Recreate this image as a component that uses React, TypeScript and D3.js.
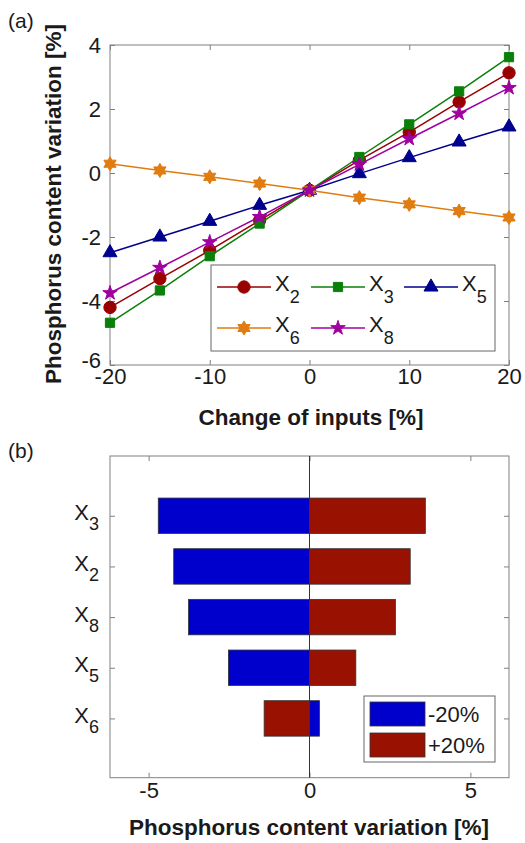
import React, { useRef, useEffect } from 'react';
import * as d3 from 'd3';

// panel (a): change of inputs vs phosphorus content variation
const inputChange = [-20, -15, -10, -5, 0, 5, 10, 15, 20];
const x2Values = [-4.2, -3.3, -2.42, -1.48, -0.54, 0.4, 1.28, 2.22, 3.13];
const x3Values = [-4.68, -3.67, -2.6, -1.58, -0.54, 0.5, 1.52, 2.55, 3.62];
const x5Values = [-2.49, -2.0, -1.51, -1.01, -0.54, -0.02, 0.48, 0.97, 1.44];
const x6Values = [0.29, 0.08, -0.12, -0.33, -0.54, -0.77, -0.98, -1.19, -1.39];
const x8Values = [-3.75, -2.96, -2.16, -1.37, -0.54, 0.27, 1.07, 1.86, 2.66];
const topXTicks = [-20, -10, 0, 10, 20];
const topYTicks = [-6, -4, -2, 0, 2, 4];

// panel (b): tornado bars, top to bottom
const barInputs = ['3', '2', '8', '5', '6'];
const minus20Values = [-4.7, -4.22, -3.76, -2.52, 0.31];
const plus20Values = [3.6, 3.13, 2.67, 1.44, -1.41];
const bottomXTicks = [-5, 0, 5];

const FONT = '"Liberation Sans", Arial, sans-serif';

// hexagram marker (MATLAB 'h')
const hexagram = {
  draw(context, size) {
    const R = Math.sqrt(size);
    const r = R / Math.sqrt(3);
    for (let i = 0; i < 12; i++) {
      const a = (i * Math.PI) / 6 - Math.PI / 2;
      const rad = i % 2 === 0 ? R : r;
      const x = rad * Math.cos(a), y = rad * Math.sin(a);
      if (i === 0) context.moveTo(x, y); else context.lineTo(x, y);
    }
    context.closePath();
  }
};

const series = [
  { name: '2', values: x2Values, color: '#990000', symbol: d3.symbolCircle, size: 120 },
  { name: '3', values: x3Values, color: '#0a800a', symbol: d3.symbolSquare, size: 85 },
  { name: '5', values: x5Values, color: '#00008f', symbol: d3.symbolTriangle, size: 85 },
  { name: '6', values: x6Values, color: '#e07c10', symbol: hexagram, size: 50 },
  { name: '8', values: x8Values, color: '#a000a0', symbol: d3.symbolStar, size: 65 },
];

// plain hyphen minus like the original figure
const plain = d => String(d);

function styleAxis(g) {
  g.select('.domain').remove();
  g.selectAll('.tick line').attr('stroke', '#808080');
  g.selectAll('.tick text')
    .attr('fill', '#1a1a1a')
    .style('font-family', FONT)
    .style('font-size', '22px');
}

function subLabel(sel, sub, subDy) {
  sel.append('tspan').text('X');
  sel.append('tspan').attr('dy', subDy).style('font-size', '18px').text(sub);
}

function App() {
  const svgRef = useRef(null);

  useEffect(() => {
    if (!svgRef.current) return;
    const svg = d3.select(svgRef.current);
    svg.selectAll('*').remove();

    // ---------- panel (a) ----------
    const x = d3.scaleLinear().domain([-20, 20]).range([110, 509]);
    const y = d3.scaleLinear().domain([-6, 4]).range([365, 45]);

    svg.append('rect')
      .attr('x', 110).attr('y', 45).attr('width', 399).attr('height', 320)
      .attr('fill', 'white').attr('stroke', '#808080');

    svg.append('g').attr('transform', 'translate(0,365)')
      .call(d3.axisBottom(x).tickValues(topXTicks).tickFormat(plain).tickSizeInner(-5).tickSizeOuter(0).tickPadding(3))
      .call(styleAxis);
    svg.append('g').attr('transform', 'translate(0,45)')
      .call(d3.axisTop(x).tickValues(topXTicks).tickSizeInner(-5).tickSizeOuter(0).tickFormat(() => ''))
      .call(styleAxis);
    const yAxisA = svg.append('g').attr('transform', 'translate(110,0)')
      .call(d3.axisLeft(y).tickValues(topYTicks).tickFormat(plain).tickSizeInner(-5).tickSizeOuter(0).tickPadding(9))
      .call(styleAxis);
    // the lowest label sits a bit higher in the original
    yAxisA.selectAll('.tick').filter(d => d === -6).select('text').attr('y', -5);
    svg.append('g').attr('transform', 'translate(509,0)')
      .call(d3.axisRight(y).tickValues(topYTicks).tickSizeInner(-5).tickSizeOuter(0).tickFormat(() => ''))
      .call(styleAxis);

    const line = d3.line().x((d, i) => x(inputChange[i])).y(d => y(d));

    series.forEach(s => {
      svg.append('path')
        .datum(s.values)
        .attr('d', line)
        .attr('fill', 'none')
        .attr('stroke', s.color)
        .attr('stroke-width', 1.5);
      svg.append('g').selectAll('path')
        .data(s.values)
        .enter().append('path')
        .attr('transform', (d, i) => `translate(${x(inputChange[i])},${y(d)})`)
        .attr('d', d3.symbol().type(s.symbol).size(s.size))
        .attr('fill', s.color)
        .attr('stroke', s.color);
    });

    // legend (a)
    const legA = svg.append('g');
    legA.append('rect')
      .attr('x', 211).attr('y', 265).attr('width', 284).attr('height', 86)
      .attr('fill', 'white').attr('stroke', '#666');
    const legPos = [[217, 287], [311, 287], [404, 287], [217, 328], [311, 328]];
    series.forEach((s, i) => {
      const [lx, ly] = legPos[i];
      const item = legA.append('g').attr('transform', `translate(${lx},${ly})`);
      item.append('line').attr('x1', 0).attr('x2', 54).attr('y1', 0).attr('y2', 0)
        .attr('stroke', s.color).attr('stroke-width', 1.5);
      item.append('path').attr('transform', 'translate(27,0)')
        .attr('d', d3.symbol().type(s.symbol).size(s.size))
        .attr('fill', s.color).attr('stroke', s.color);
      item.append('text').attr('x', 58).attr('y', 4)
        .style('font-family', FONT).style('font-size', '22px').attr('fill', '#1a1a1a')
        .call(t => subLabel(t, s.name, 12));
    });

    svg.append('text')
      .attr('x', 311).attr('y', 425).attr('text-anchor', 'middle')
      .style('font-family', FONT).style('font-size', '22.5px').style('font-weight', 'bold')
      .attr('fill', '#1a1a1a')
      .text('Change of inputs [%]');
    svg.append('text')
      .attr('transform', 'translate(61,204) rotate(-90)').attr('text-anchor', 'middle')
      .style('font-family', FONT).style('font-size', '22.5px').style('font-weight', 'bold')
      .attr('fill', '#1a1a1a')
      .text('Phosphorus content variation [%]');
    svg.append('text').attr('x', 8).attr('y', 28)
      .style('font-family', FONT).style('font-size', '21px').attr('fill', '#1a1a1a').text('(a)');

    // ---------- panel (b) ----------
    const xb = d3.scaleLinear().domain([-6.2, 6.2]).range([110, 509]);
    const yb = d3.scaleLinear().domain([-0.17, 6.18]).range([777.7, 456]);
    const pos = (i) => barInputs.length - i; // X3 at top
    const barH = yb(0) - yb(0.7);

    svg.append('rect')
      .attr('x', 110).attr('y', 456).attr('width', 399).attr('height', 321.7)
      .attr('fill', 'white').attr('stroke', '#808080');

    svg.append('g').attr('transform', 'translate(0,777.7)')
      .call(d3.axisBottom(xb).tickValues(bottomXTicks).tickFormat(plain).tickSizeInner(-5).tickSizeOuter(0).tickPadding(5))
      .call(styleAxis);
    svg.append('g').attr('transform', 'translate(0,456)')
      .call(d3.axisTop(xb).tickValues(bottomXTicks).tickSizeInner(-5).tickSizeOuter(0).tickFormat(() => ''))
      .call(styleAxis);
    svg.append('g').attr('transform', 'translate(110,0)')
      .call(d3.axisLeft(yb).tickValues(barInputs.map((d, i) => pos(i))).tickSizeInner(-5).tickSizeOuter(0).tickFormat(() => ''))
      .call(styleAxis);
    svg.append('g').attr('transform', 'translate(509,0)')
      .call(d3.axisRight(yb).tickValues(barInputs.map((d, i) => pos(i))).tickSizeInner(-5).tickSizeOuter(0).tickFormat(() => ''))
      .call(styleAxis);

    barInputs.forEach((name, i) => {
      svg.append('text')
        .attr('x', 99).attr('y', yb(pos(i)) + 4.5).attr('text-anchor', 'end')
        .style('font-family', FONT).style('font-size', '22px').attr('fill', '#1a1a1a')
        .call(t => subLabel(t, name, 10));
    });

    const drawBars = (values, color) => {
      svg.append('g').selectAll('rect')
        .data(values)
        .enter().append('rect')
        .attr('x', d => Math.min(xb(0), xb(d)))
        .attr('width', d => Math.abs(xb(d) - xb(0)))
        .attr('y', (d, i) => yb(pos(i)) - barH / 2)
        .attr('height', barH)
        .attr('fill', color)
        .attr('stroke', '#333')
        .attr('stroke-width', 0.8);
    };
    drawBars(minus20Values, '#0000cc');
    drawBars(plus20Values, '#991100');

    svg.append('line')
      .attr('x1', xb(0)).attr('x2', xb(0)).attr('y1', 456).attr('y2', 777.7)
      .attr('stroke', '#333').attr('stroke-width', 1);

    // legend (b)
    const legB = svg.append('g');
    legB.append('rect')
      .attr('x', 364).attr('y', 696).attr('width', 131).attr('height', 66)
      .attr('fill', 'white').attr('stroke', '#666');
    [['-20%', '#0000cc'], ['+20%', '#991100']].forEach(([label, color], i) => {
      legB.append('rect')
        .attr('x', 370).attr('y', 702 + i * 31).attr('width', 55).attr('height', 24)
        .attr('fill', color).attr('stroke', '#333').attr('stroke-width', 0.8);
      legB.append('text')
        .attr('x', 428).attr('y', 722 + i * 31)
        .style('font-family', FONT).style('font-size', '22px').attr('fill', '#1a1a1a')
        .text(label);
    });

    svg.append('text')
      .attr('x', 309).attr('y', 835).attr('text-anchor', 'middle')
      .style('font-family', FONT).style('font-size', '22.5px').style('font-weight', 'bold')
      .attr('fill', '#1a1a1a')
      .text('Phosphorus content variation [%]');
    svg.append('text').attr('x', 8).attr('y', 458)
      .style('font-family', FONT).style('font-size', '21px').attr('fill', '#1a1a1a').text('(b)');
  }, []);

  return (
    <svg
      ref={svgRef}
      width={525}
      height={843}
      style={{ position: 'absolute', left: 0, top: 0, background: 'white' }}
    />
  );
}

export default App;
